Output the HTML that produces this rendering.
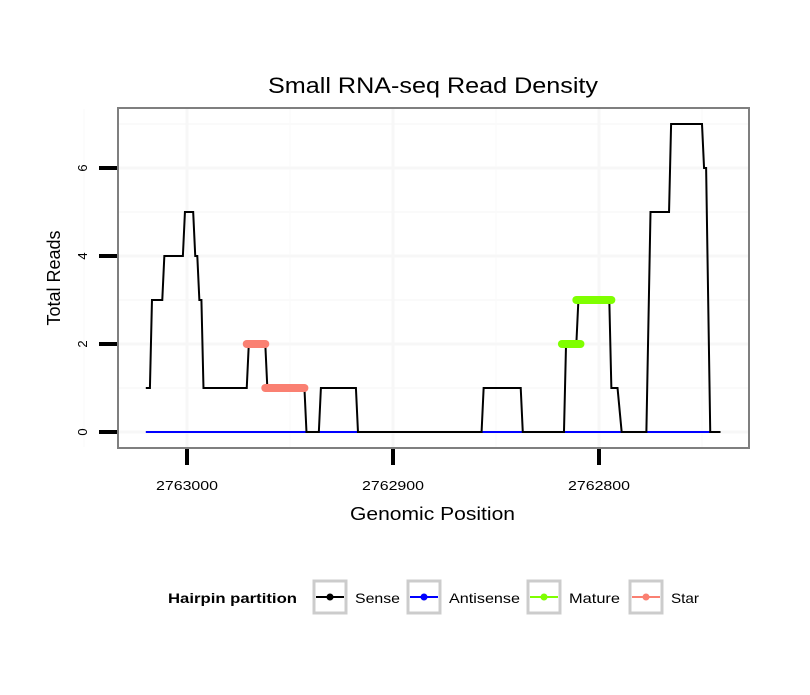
<!DOCTYPE html>
<html><head><meta charset="utf-8"><style>
body{margin:0;background:#fff;font-family:"Liberation Sans",sans-serif}
svg text{font-family:"Liberation Sans",sans-serif}
</style></head><body>
<svg width="810" height="690">
<g id="grid"></g>
<g id="marks"></g>
<rect x="118" y="108" width="631" height="340" fill="none" stroke="#7f7f7f" stroke-width="2"/>
<g id="axes"></g>
<text x="268" y="93" font-size="22" textLength="330" lengthAdjust="spacingAndGlyphs">Small RNA-seq Read Density</text>
<text x="350" y="520" font-size="18" textLength="165" lengthAdjust="spacingAndGlyphs">Genomic Position</text>
<text transform="translate(60,278) rotate(-90)" font-size="18" text-anchor="middle">Total Reads</text>
<g>
<text x="168" y="603" font-size="14" font-weight="bold" textLength="129" lengthAdjust="spacingAndGlyphs">Hairpin partition</text>
<g><rect x="314" y="581" width="32" height="32" fill="#fff" stroke="#ccc" stroke-width="3"/><line x1="316" y1="597" x2="344" y2="597" stroke="#000" stroke-width="2"/><circle cx="330" cy="597" r="3.5" fill="#000"/><text x="355" y="603" font-size="14" textLength="45" lengthAdjust="spacingAndGlyphs">Sense</text></g>
<g><rect x="408" y="581" width="32" height="32" fill="#fff" stroke="#ccc" stroke-width="3"/><line x1="410" y1="597" x2="438" y2="597" stroke="#00f" stroke-width="2"/><circle cx="424" cy="597" r="3.5" fill="#00f"/><text x="449" y="603" font-size="14" textLength="71" lengthAdjust="spacingAndGlyphs">Antisense</text></g>
<g><rect x="528" y="581" width="32" height="32" fill="#fff" stroke="#ccc" stroke-width="3"/><line x1="530" y1="597" x2="558" y2="597" stroke="#7fff00" stroke-width="2"/><circle cx="544" cy="597" r="3.5" fill="#7fff00"/><text x="569" y="603" font-size="14" textLength="51" lengthAdjust="spacingAndGlyphs">Mature</text></g>
<g><rect x="630" y="581" width="32" height="32" fill="#fff" stroke="#ccc" stroke-width="3"/><line x1="632" y1="597" x2="660" y2="597" stroke="#fa8072" stroke-width="2"/><circle cx="646" cy="597" r="3.5" fill="#fa8072"/><text x="671" y="603" font-size="14" textLength="28" lengthAdjust="spacingAndGlyphs">Star</text></g>
</g>
</svg>
<script>
const sensePos=[2763020,2763018,2763017,2763012,2763011,2763002,2763001,2762997,2762996,2762995,2762994,2762993,2762992,2762971,2762970,2762962,2762961,2762943,2762942,2762936,2762935,2762918,2762917,2762857,2762856,2762838,2762837,2762817,2762816,2762811,2762810,2762795,2762794,2762791,2762789,2762777,2762775,2762766,2762765,2762750,2762749,2762748,2762746,2762741];
const senseVal=[1,1,3,3,4,4,5,5,4,4,3,3,1,1,2,2,1,1,0,0,1,1,0,0,1,1,0,0,2,2,3,3,1,1,0,0,5,5,7,7,6,6,0,0];
const antiPos=[2763020,2762746];
const antiVal=[0,0];
const starStart=[2762971,2762962];
const starEnd=[2762962,2762943];
const starVal=[2,1];
const matStart=[2762818,2762811];
const matEnd=[2762809,2762794];
const matVal=[2,3];
const xTicks=[2763000,2762900,2762800];
const xTickLabels=["2763000","2762900","2762800"];
const yTicks=[0,2,4,6];
const yTickLabels=["0","2","4","6"];
const X=p=>187+(2763000-p)*2.06;
const Y=v=>432-v*44;
const NS="http://www.w3.org/2000/svg";
function mk(parent,tag,attrs){const e=document.createElementNS(NS,tag);for(const k in attrs)e.setAttribute(k,attrs[k]);document.getElementById(parent).appendChild(e);return e;}
[2763050,2762950,2762850,2762750].forEach(p=>{const e=mk('grid','line',{x1:X(p),x2:X(p),y1:109,y2:447,stroke:'#fcfcfc','stroke-width':2});});
[1,3,5,7].forEach(v=>{const e=mk('grid','line',{x1:119,x2:748,y1:Y(v),y2:Y(v),stroke:'#fafafa','stroke-width':2});});
xTicks.forEach(p=>{const e=mk('grid','line',{x1:X(p),x2:X(p),y1:109,y2:447,stroke:'#f7f7f7','stroke-width':3});});
yTicks.forEach(v=>{const e=mk('grid','line',{x1:119,x2:748,y1:Y(v),y2:Y(v),stroke:'#f7f7f7','stroke-width':3});});
let a=mk('marks','polyline',{points:antiPos.map((p,i)=>X(p)+','+Y(antiVal[i])).join(' '),fill:'none',stroke:'#00f','stroke-width':2});

let s=mk('marks','polyline',{points:sensePos.map((p,i)=>X(p)+','+Y(senseVal[i])).join(' '),fill:'none',stroke:'#000','stroke-width':2});

starVal.forEach((v,i)=>{const e=mk('marks','line',{x1:X(starStart[i]),x2:X(starEnd[i]),y1:Y(v),y2:Y(v),stroke:'#fa8072','stroke-width':8,'stroke-linecap':'round'});});
matVal.forEach((v,i)=>{const e=mk('marks','line',{x1:X(matStart[i]),x2:X(matEnd[i]),y1:Y(v),y2:Y(v),stroke:'#7fff00','stroke-width':8,'stroke-linecap':'round'});});
xTicks.forEach((p,i)=>{const t=mk('axes','line',{x1:X(p),x2:X(p),y1:449,y2:465,stroke:'#000','stroke-width':4});
const l=mk('axes','text',{x:X(p)-31,y:490,'font-size':13,textLength:62,lengthAdjust:'spacingAndGlyphs'});l.textContent=xTickLabels[i];});
yTicks.forEach((v,i)=>{const t=mk('axes','line',{x1:99,x2:117,y1:Y(v),y2:Y(v),stroke:'#000','stroke-width':4});
const l=mk('axes','text',{transform:`translate(87,${Y(v)}) rotate(-90)`,'font-size':13,'text-anchor':'middle'});l.textContent=yTickLabels[i];});
</script>
</body></html>
